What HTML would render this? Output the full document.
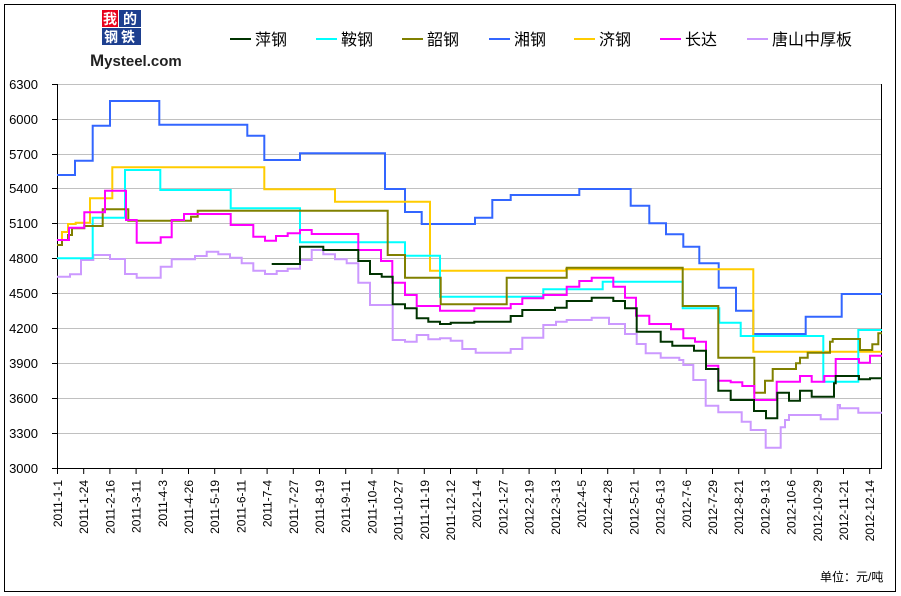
<!DOCTYPE html>
<html><head><meta charset="utf-8"><style>
body{margin:0;background:#fff;}
svg{display:block;font-family:"Liberation Sans","Noto Sans CJK SC",sans-serif;}
</style></head><body>
<svg width="901" height="596" viewBox="0 0 901 596" xmlns="http://www.w3.org/2000/svg">
<rect x="4.5" y="4.5" width="891" height="587" fill="#fff" stroke="#000" stroke-width="1"/>
<rect x="102" y="10" width="16" height="17" fill="#e8001c"/>
<rect x="119" y="10" width="22" height="17" fill="#1d3f8f"/>
<rect x="102" y="28" width="39" height="17" fill="#1d3f8f"/>
<text x="110" y="24" fill="#fff" font-size="14" font-weight="bold" text-anchor="middle">我</text>
<text x="130" y="24" fill="#fff" font-size="14" font-weight="bold" text-anchor="middle">的</text>
<text x="121" y="42" fill="#fff" font-size="14" font-weight="bold" text-anchor="middle" letter-spacing="3">钢铁</text>
<text x="90" y="66" font-size="17" font-weight="bold" fill="#222">M<tspan font-size="15">ysteel.com</tspan></text>
<g font-size="16" fill="#000" stroke-width="2">
<line x1="230" y1="39" x2="251" y2="39" stroke="#003300"/><text x="255" y="45">萍钢</text>
<line x1="316" y1="39" x2="337" y2="39" stroke="#00FFFF"/><text x="341" y="45">鞍钢</text>
<line x1="402" y1="39" x2="423" y2="39" stroke="#808000"/><text x="427" y="45">韶钢</text>
<line x1="489" y1="39" x2="510" y2="39" stroke="#3366FF"/><text x="514" y="45">湘钢</text>
<line x1="574" y1="39" x2="595" y2="39" stroke="#FFCC00"/><text x="599" y="45">济钢</text>
<line x1="660" y1="39" x2="681" y2="39" stroke="#FF00FF"/><text x="685" y="45">长达</text>
<line x1="747" y1="39" x2="768" y2="39" stroke="#CC99FF"/><text x="772" y="45">唐山中厚板</text>
</g>
<g stroke="#c0c0c0" stroke-width="1">
<line x1="57" x2="882" y1="84.5" y2="84.5"/><line x1="57" x2="882" y1="119.5" y2="119.5"/>
<line x1="57" x2="882" y1="154.5" y2="154.5"/><line x1="57" x2="882" y1="188.5" y2="188.5"/>
<line x1="57" x2="882" y1="223.5" y2="223.5"/><line x1="57" x2="882" y1="258.5" y2="258.5"/>
<line x1="57" x2="882" y1="293.5" y2="293.5"/><line x1="57" x2="882" y1="328.5" y2="328.5"/>
<line x1="57" x2="882" y1="363.5" y2="363.5"/><line x1="57" x2="882" y1="398.5" y2="398.5"/>
<line x1="57" x2="882" y1="433.5" y2="433.5"/>
</g>
<g font-size="13" text-anchor="end" fill="#000">
<text x="38" y="89">6300</text><text x="38" y="124">6000</text><text x="38" y="159">5700</text>
<text x="38" y="193">5400</text><text x="38" y="228">5100</text><text x="38" y="263">4800</text>
<text x="38" y="298">4500</text><text x="38" y="333">4200</text><text x="38" y="368">3900</text>
<text x="38" y="403">3600</text><text x="38" y="438">3300</text><text x="38" y="473">3000</text>
</g>
<g stroke="#000" stroke-width="1">
<line x1="57.5" y1="84" x2="57.5" y2="469"/><line x1="52" y1="468.5" x2="882" y2="468.5"/>
<line x1="881.5" y1="84" x2="881.5" y2="469"/>
<path d="M52 84.5H57M52 119.5H57M52 154.5H57M52 188.5H57M52 223.5H57M52 258.5H57M52 293.5H57M52 328.5H57M52 363.5H57M52 398.5H57M52 433.5H57"/>
<path d="M57.5 468V474M83.7 468V474M109.9 468V474M136.1 468V474M162.3 468V474M188.5 468V474M214.7 468V474M240.9 468V474M267.1 468V474M293.3 468V474M319.5 468V474M345.7 468V474M371.9 468V474M398.1 468V474M424.3 468V474M450.5 468V474M476.7 468V474M502.9 468V474M529.1 468V474M555.3 468V474M581.5 468V474M607.7 468V474M633.9 468V474M660.1 468V474M686.3 468V474M712.5 468V474M738.7 468V474M764.9 468V474M791.1 468V474M817.3 468V474M843.5 468V474M869.7 468V474"/>
</g>
<g font-size="12" text-anchor="end" fill="#000">
<text transform="translate(62,480) rotate(-90)">2011-1-1</text>
<text transform="translate(88.2,480) rotate(-90)">2011-1-24</text>
<text transform="translate(114.4,480) rotate(-90)">2011-2-16</text>
<text transform="translate(140.6,480) rotate(-90)">2011-3-11</text>
<text transform="translate(166.8,480) rotate(-90)">2011-4-3</text>
<text transform="translate(193,480) rotate(-90)">2011-4-26</text>
<text transform="translate(219.2,480) rotate(-90)">2011-5-19</text>
<text transform="translate(245.4,480) rotate(-90)">2011-6-11</text>
<text transform="translate(271.6,480) rotate(-90)">2011-7-4</text>
<text transform="translate(297.8,480) rotate(-90)">2011-7-27</text>
<text transform="translate(324,480) rotate(-90)">2011-8-19</text>
<text transform="translate(350.2,480) rotate(-90)">2011-9-11</text>
<text transform="translate(376.4,480) rotate(-90)">2011-10-4</text>
<text transform="translate(402.6,480) rotate(-90)">2011-10-27</text>
<text transform="translate(428.8,480) rotate(-90)">2011-11-19</text>
<text transform="translate(455,480) rotate(-90)">2011-12-12</text>
<text transform="translate(481.2,480) rotate(-90)">2012-1-4</text>
<text transform="translate(507.4,480) rotate(-90)">2012-1-27</text>
<text transform="translate(533.6,480) rotate(-90)">2012-2-19</text>
<text transform="translate(559.8,480) rotate(-90)">2012-3-13</text>
<text transform="translate(586,480) rotate(-90)">2012-4-5</text>
<text transform="translate(612.2,480) rotate(-90)">2012-4-28</text>
<text transform="translate(638.4,480) rotate(-90)">2012-5-21</text>
<text transform="translate(664.6,480) rotate(-90)">2012-6-13</text>
<text transform="translate(690.8,480) rotate(-90)">2012-7-6</text>
<text transform="translate(717,480) rotate(-90)">2012-7-29</text>
<text transform="translate(743.2,480) rotate(-90)">2012-8-21</text>
<text transform="translate(769.4,480) rotate(-90)">2012-9-13</text>
<text transform="translate(795.6,480) rotate(-90)">2012-10-6</text>
<text transform="translate(821.8,480) rotate(-90)">2012-10-29</text>
<text transform="translate(848,480) rotate(-90)">2012-11-21</text>
<text transform="translate(874.2,480) rotate(-90)">2012-12-14</text>
</g>
<g fill="none" stroke-width="2" stroke-linejoin="miter">
<path stroke="#CC99FF" d="M57 276.7H70V274.3H81V260H93.3V255H110V259H125V274H136.7V277.7H160.7V266.7H171.7V259.3H195V256H206.7V251.7H218.3V254.3H230V257.7H241.7V263.3H253.3V270.7H265V274H276.7V271H287.7V268.7H300V260H311.7V250H323.3V254.3H335V259.3H346.7V263.3H358.3V282.7H370V305H392.7V340H405V341.7H416.7V335H428.3V339.3H440V338.3H450.7V340.7H462.3V349H475.7V352.7H510.7V349H522.3V337.7H543.3V325H556V321.7H566.7V320H591.7V317.7H609V324H625V334H636.7V344H645.7V353.3H660.7V357.7H679.3V360H683.3V365H693.3V380H705.7V405.7H718.3V412.3H741.7V421.7H750.7V430H765.7V447.7H780.7V427.3H785V420H789V415H820.7V419.3H837.7V405H840V408.3H858.3V412.7H882"/>
<path stroke="#3366FF" d="M57 175H75V160.7H92.7V125.7H110V101H159.3V124.7H247.3V135.7H264.3V160H300V153.3H385V189H405V212H421.7V224H475V217.7H492.3V200H510.7V195H579.3V189H630.7V205.7H649.3V223.3H666V234.3H683.3V246.7H699.3V263.3H718.7V287.7H736V310.7H753.3V334H805.7V316.7H841.7V294H882"/>
<path stroke="#FFCC00" d="M57 240H62V232H68V224H75.7V222.7H90V198.3H112.3V167.3H264.3V189.3H335V201.7H430V270.7H566V269.3H753.3V351.7H882"/>
<path stroke="#00FFFF" d="M57 258.3H92.7V217.7H125V170H160.3V190H230.7V208.3H300V242.3H405V255.7H440V296.7H543.3V289.3H602.7V281.7H682.7V308.3H719.3V322.7H740.7V336H823.3V381.7H858.3V330H882"/>
<path stroke="#808000" d="M57 245H62V240H68V235H72V228.3H84.3V226H102.7V209.3H128.3V220.7H191V216.7H197.7V210.7H387.7V255H405V277.7H440.7V304.3H506.7V277.7H566.7V267.7H682.7V306H718.3V357.7H754.3V392.7H765V380.7H772.7V369H796V363.3H800V357.7H807.7V352.7H830V341.7H832.7V339H860V350H872.3V344.3H878.3V333.3H882"/>
<path stroke="#FF00FF" d="M57 240H69V227.7H84.3V212.3H105V190.7H126V220H136.7V242.7H160.7V237.3H171.7V220H184V214H230.7V225H253.3V236.7H265V240.7H276V236H287.7V233.3H300V230H311.7V234H358.3V250H381V261H392.3V282.7H405V295H416.7V306H440V310.7H474.3V308.3H510.7V304H522.3V298.3H543.3V295H566.7V286.7H579.3V281H591.7V277.7H613.3V286.7H625V297.7H636V315.7H649.3V324H671V329.3H683.3V338.3H695V341.7H706V365.7H718.3V380.7H730.7V382.3H742.3V386H754.3V400H776.7V381.7H800V376H811.7V381.7H824.3V376H835.7V359H859V362.7H870V355.7H882"/>
<path stroke="#003300" d="M271.7 264H300V246.7H323.3V250H358.3V261H370V274H381.7V276.7H392.7V304.3H405V308.3H416.7V318.3H428.3V321.7H440V324H450.7V322.7H474.3V321.7H510.7V316H522.3V310H555V307.7H566.7V301H591.7V297.7H613.3V301H625V308.3H636.7V331.7H660.7V341.7H672.3V345.7H694V350.7H706V369H718.3V390.7H730.7V400H754V411H766V418.3H777.3V392.7H789V400.7H800V390.7H811.7V396.7H834V383.3H835.7V376H859V379.3H870V378.3H882"/>
</g>
<text x="820" y="581" font-size="12">单位：元/吨</text>
</svg>
</body></html>
